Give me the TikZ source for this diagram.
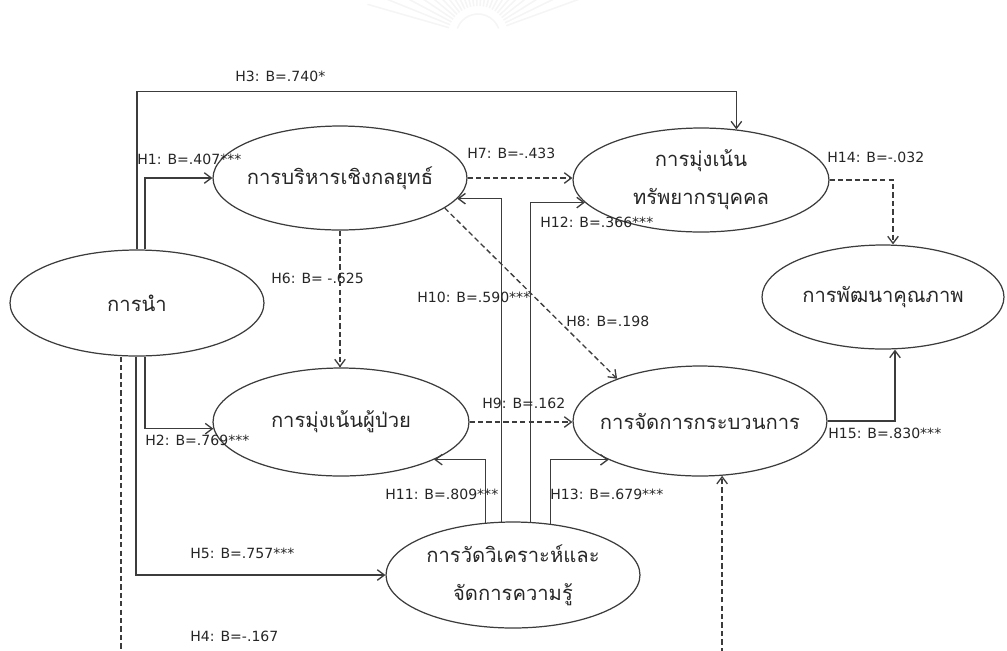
\documentclass[tikz,border=0pt]{standalone}
\usepackage{fontspec}
\setmainfont{DejaVu Sans}
\newfontfamily\thaifont[Script=Thai]{Loma}
\usetikzlibrary{arrows.meta,calc,shapes.geometric}
\definecolor{linec}{HTML}{3C3C3C}
\definecolor{txtc}{HTML}{262626}
\begin{document}
\begin{tikzpicture}[x=0.02cm,y=-0.02cm,
  ell/.style={draw=linec, line width=0.7pt, ellipse, inner sep=0pt},
  conn/.style={draw=linec, line width=0.75pt, -{Straight Barb[length=4pt,width=6pt]}},
  dconn/.style={conn, dash pattern=on 3pt off 1.8pt},
  hlab/.style={font=\fontsize{8}{9}\selectfont, text=txtc, inner sep=0pt, anchor=west},
  thai/.style={font=\thaifont\fontsize{11.5}{21.5}\selectfont, text=txtc, align=center, inner sep=0pt}]
\clip (0,0) rectangle (1007,650);

% faint seal in the page header
\coordinate (seal) at (478,36);
\foreach \a in {196,202,...,344}
  \draw[black!4, line width=0.9pt] (seal) ++(\a:30) -- ++(\a:85);
\draw[black!4, line width=0.9pt] (seal) ++(200:22) arc[start angle=200, end angle=340, radius=22];

% constructs
\node[ell, minimum width=5.08cm, minimum height=2.12cm] (lead)  at (137,303) {};
\node[ell, minimum width=5.08cm, minimum height=2.08cm] (strat) at (340,178) {};
\node[ell, minimum width=5.12cm, minimum height=2.08cm] (hr)    at (701,180) {};
\node[ell, minimum width=4.84cm, minimum height=2.08cm] (qual)  at (883,297) {};
\node[ell, minimum width=5.12cm, minimum height=2.16cm] (pat)   at (341,422) {};
\node[ell, minimum width=5.08cm, minimum height=2.20cm] (proc)  at (700,421) {};
\node[ell, minimum width=5.08cm, minimum height=2.12cm] (meas)  at (513,575) {};

\node[thai] (tlead)  at (lead)  {การนำ};
\node[thai] (tstrat) at (strat) {การบริหารเชิงกลยุทธ์};
\node[thai] (thr)    at (hr)    {การมุ่งเน้น\\ทรัพยากรบุคคล};
\node[thai] (tqual)  at (qual)  {การพัฒนาคุณภาพ};
\node[thai] (tpat)   at (pat)   {การมุ่งเน้นผู้ป่วย};
\node[thai] (tproc)  at (proc)  {การจัดการกระบวนการ};
\node[thai] (tmeas)  at (meas)  {การวัดวิเคราะห์และ\\จัดการความรู้};

% paths
\draw[conn]  (lead.north) -- ++(0,-158) -| (hr.55);
\draw[conn]  ($(lead.north)+(8,0)$) |- (strat.west);
\draw[conn]  ($(lead.south)+(8,0)$) |- (pat.183);
\draw[conn]  ($(lead.south)+(-1,0)$) |- (meas.west);
\draw[dconn] ($(lead.south)+(-16,0)$) -- ++(0,400) -| (proc.-68);
\draw[dconn] (strat.south) -- (strat.south |- pat.north);
\draw[dconn] (strat.east) -- (strat.east -| hr.west);
\draw[dconn] (strat.-16) -- (proc.153);
\draw[dconn] (pat.east) -- (pat.east -| proc.west);
\draw[conn]  (meas.102) |- (strat.-10);
\draw[conn]  (meas.72) |- (hr.191);
\draw[conn]  (meas.118) |- (pat.-22);
\draw[conn]  (meas.54) |- (proc.203);
\draw[dconn] (hr.east) -| ($(qual.north)+(10,0)$);
\draw[conn]  (proc.east) -| ($(qual.south)+(12,0)$);

% path coefficients
\node[hlab] (l3)  at (235,76)  {H3: B=.740*};
\node[hlab] (l1)  at (137,159) {H1: B=.407***};
\node[hlab] (l7)  at (467,153) {H7: B=-.433};
\node[hlab] (l14) at (827,157) {H14: B=-.032};
\node[hlab] (l12) at (540,222) {H12: B=.366***};
\node[hlab] (l6)  at (271,278) {H6: B= -.625};
\node[hlab] (l10) at (417,297) {H10: B=.590***};
\node[hlab] (l8)  at (566,321) {H8: B=.198};
\node[hlab] (l9)  at (482,403) {H9: B=.162};
\node[hlab] (l2)  at (145,440) {H2: B=.769***};
\node[hlab] (l15) at (828,433) {H15: B=.830***};
\node[hlab] (l11) at (385,494) {H11: B=.809***};
\node[hlab] (l13) at (550,494) {H13: B=.679***};
\node[hlab] (l5)  at (190,553) {H5: B=.757***};
\node[hlab] (l4)  at (190,636) {H4: B=-.167};
\end{tikzpicture}
\end{document}
